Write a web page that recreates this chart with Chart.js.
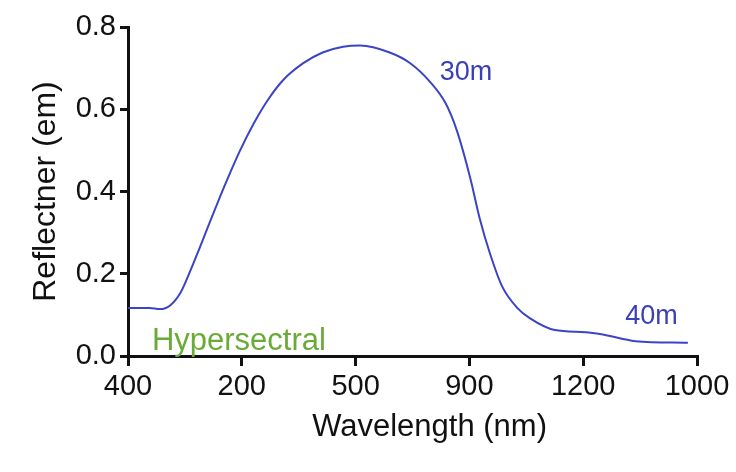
<!DOCTYPE html>
<html>
<head>
<meta charset="utf-8">
<script src="https://cdn.jsdelivr.net/npm/chart.js@4/dist/chart.umd.min.js"></script>
<style>
  html, body { margin: 0; padding: 0; background: #fff; }
  #wrap { width: 736px; height: 472px; position: relative; }
</style>
</head>
<body>
<div id="wrap"><canvas id="spectrum"></canvas></div>
<script>
// tick labels as printed on the original (not monotonic, kept as-is)
var xTickLabels = ["400", "200", "500", "900", "1200", "1000"];
// curve, x = tick slot position (0..5), y = reflectance
var curveX = [0, 0.19, 0.28, 0.37, 0.46, 0.54, 0.63, 0.72, 0.81, 0.90, 0.98, 1.10, 1.22, 1.36, 1.54, 1.71, 1.89, 2.04,
              2.30, 2.48, 2.65, 2.79, 2.89, 3.01, 3.09, 3.18, 3.29, 3.42, 3.53, 3.75, 4.02, 4.16, 4.46, 4.92];
var curveY = [0.117, 0.117, 0.114, 0.123, 0.153, 0.202, 0.263, 0.326, 0.388, 0.447, 0.497, 0.563, 0.619, 0.670, 0.712, 0.738, 0.752, 0.755,
              0.738, 0.712, 0.668, 0.615, 0.548, 0.430, 0.335, 0.250, 0.168, 0.117, 0.092, 0.063, 0.058, 0.053, 0.036, 0.032];
// text labels placed in data units
var noteText  = ["30m", "40m", "Hypersectral"];
var noteX     = [2.97, 4.60, 0.21];
var noteY     = [0.69, 0.095, 0.036];
var noteColor = ["#3b40b4", "#3b40b4", "#6aab38"];
var noteAlign = ["center", "center", "left"];
var xTitle = "Wavelength (nm)";

var blue = "#3c44c6";
var ink = "#111111";
var fontFam = "'Liberation Sans', Arial, Helvetica, sans-serif";

var points = curveX.map(function(x, i){ return {x: x, y: curveY[i]}; });

// draws the in-plot text labels and the x axis title (sits right of centre in the original)
var notesPlugin = {
  id: "notes",
  afterDraw: function(chart){
    var ctx = chart.ctx;
    var xs = chart.scales.x, ys = chart.scales.y;
    ctx.save();
    ctx.textBaseline = "middle";
    for (var i = 0; i < noteText.length; i++) {
      ctx.font = (i == 2 ? "31px " : "27px ") + fontFam;
      ctx.fillStyle = noteColor[i];
      ctx.textAlign = noteAlign[i];
      ctx.fillText(noteText[i], xs.getPixelForValue(noteX[i]), ys.getPixelForValue(noteY[i]));
    }
    ctx.font = "31px " + fontFam;
    ctx.fillStyle = ink;
    ctx.textAlign = "center";
    ctx.fillText(xTitle, xs.getPixelForValue(2.65), xs.bottom - 18);
    ctx.restore();
  }
};

new Chart(document.getElementById("spectrum"), {
  type: "line",
  data: {
    datasets: [{
      data: points,
      borderColor: blue,
      borderWidth: 2,
      pointRadius: 0,
      cubicInterpolationMode: "monotone",
      fill: false
    }]
  },
  options: {
    responsive: true,
    maintainAspectRatio: false,
    animation: false,
    layout: { padding: { left: 27, right: 39, top: 27, bottom: 27 } },
    plugins: { legend: { display: false }, tooltip: { enabled: false } },
    scales: {
      x: {
        type: "linear",
        min: 0, max: 5,
        afterFit: function(s){ s.height = 89; },
        ticks: {
          stepSize: 1,
          color: ink,
          padding: 4,
          font: { size: 29, family: fontFam },
          maxRotation: 0,
          callback: function(v){ return xTickLabels[v]; }
        },
        grid: { drawOnChartArea: false, drawTicks: true, tickLength: 10, color: ink, lineWidth: 3 },
        border: { display: true, color: ink, width: 3 }
      },
      y: {
        min: 0, max: 0.8,
        afterFit: function(s){ s.width = 101; },
        ticks: {
          stepSize: 0.2,
          color: ink,
          padding: 4,
          font: { size: 29, family: fontFam },
          callback: function(v){ return v.toFixed(1); }
        },
        grid: { drawOnChartArea: false, drawTicks: true, tickLength: 8, color: ink, lineWidth: 3 },
        border: { display: true, color: ink, width: 3 },
        title: { display: true, text: "Reflectner (em)", color: ink, font: { size: 32, family: fontFam }, padding: 0 }
      }
    }
  },
  plugins: [notesPlugin]
});
</script>
</body>
</html>
